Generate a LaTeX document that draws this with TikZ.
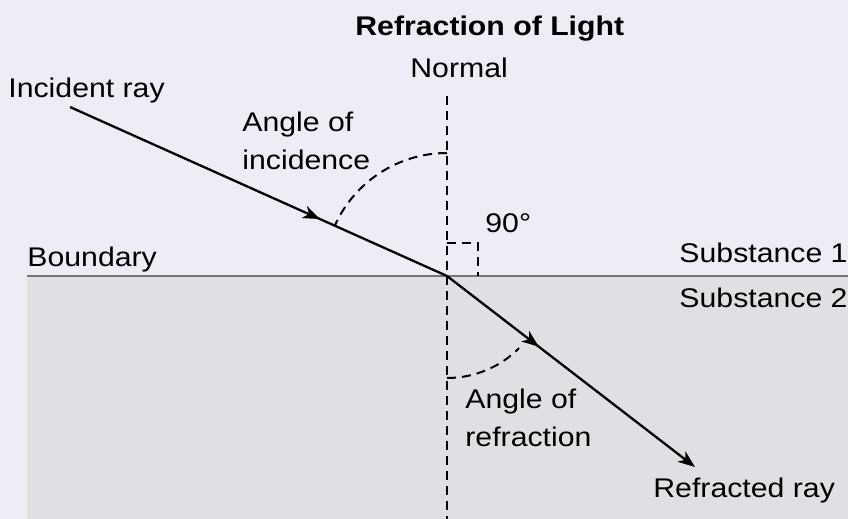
\documentclass[tikz,border=0pt]{standalone}
\usepackage{fontspec}
\setmainfont[FakeStretch=1.12]{Liberation Sans}
\usetikzlibrary{arrows.meta,decorations.markings}

\definecolor{upperbg}{RGB}{237,237,245}
\definecolor{lowerbg}{RGB}{223,224,227}
\definecolor{bline}{RGB}{118,118,120}

\begin{document}
\begin{tikzpicture}[x=0.5pt,y=0.5pt,
  font=\fontsize{13.5}{19}\selectfont,
  lbl/.style={inner sep=0pt,anchor=base west},
  twoline/.style={inner sep=0pt,anchor=north west,align=left},
  ray/.style={line width=1.15pt,postaction={decorate}},
  dsh/.style={line width=1pt,dash pattern=on 4.5pt off 3pt},
  >/.tip={Stealth[length=8.5pt,width=6.5pt,inset=2.5pt]}
]
\useasboundingbox (0,0) rectangle (848,-519);
\fill[upperbg] (0,0) rectangle (848,-519);
\fill[lowerbg] (27,-276) rectangle (848,-519);

\coordinate (O) at (447,-276);
\coordinate (inc) at (70,-107);
\coordinate (refr) at (695,-467);
\coordinate (ntop) at (447,-96);
\coordinate (nbot) at (447,-519);
\coordinate (bl) at (27,-276);
\coordinate (br) at (848,-276);

\node[lbl,font=\fontsize{13.5}{19}\selectfont\bfseries] (title) at (355,-36) {Refraction of Light};
\node[lbl] (normal) at (410,-78) {Normal};
\node[lbl] (incray) at (8,-98) {Incident ray};
\node[twoline] (incang) at (242,-112) {Angle of\\incidence};
\node[lbl] (right) at (485,-233) {90°};
\node[lbl] (bound) at (27,-267) {Boundary};
\node[lbl,anchor=base east] (sub1) at (848,-263) {Substance 1};
\node[lbl,anchor=base east] (sub2) at (848,-307) {Substance 2};
\node[twoline] (refang) at (465,-389) {Angle of\\refraction};
\node[lbl] (refray) at (653,-498) {Refracted ray};

\draw[bline,line width=1.3pt] (bl) -- (br);
\draw[dsh] (ntop) -- (nbot);
\draw[dsh] (O) ++(0,33) -- ++(31,0) -- ++(0,-33);
\draw[dsh] (O) ++(90:123) arc[start angle=90,end angle=155.9,radius=123];
\draw[dsh] (O) ++(270:102) arc[start angle=270,end angle=315,radius=102];

\draw[ray,decoration={markings,mark=at position 0.663 with {\arrow{>}}}] (inc) -- (O);
\draw[ray,->,decoration={markings,mark=at position 0.37 with {\arrow{>}}}] (O) -- (refr);
\end{tikzpicture}
\end{document}
